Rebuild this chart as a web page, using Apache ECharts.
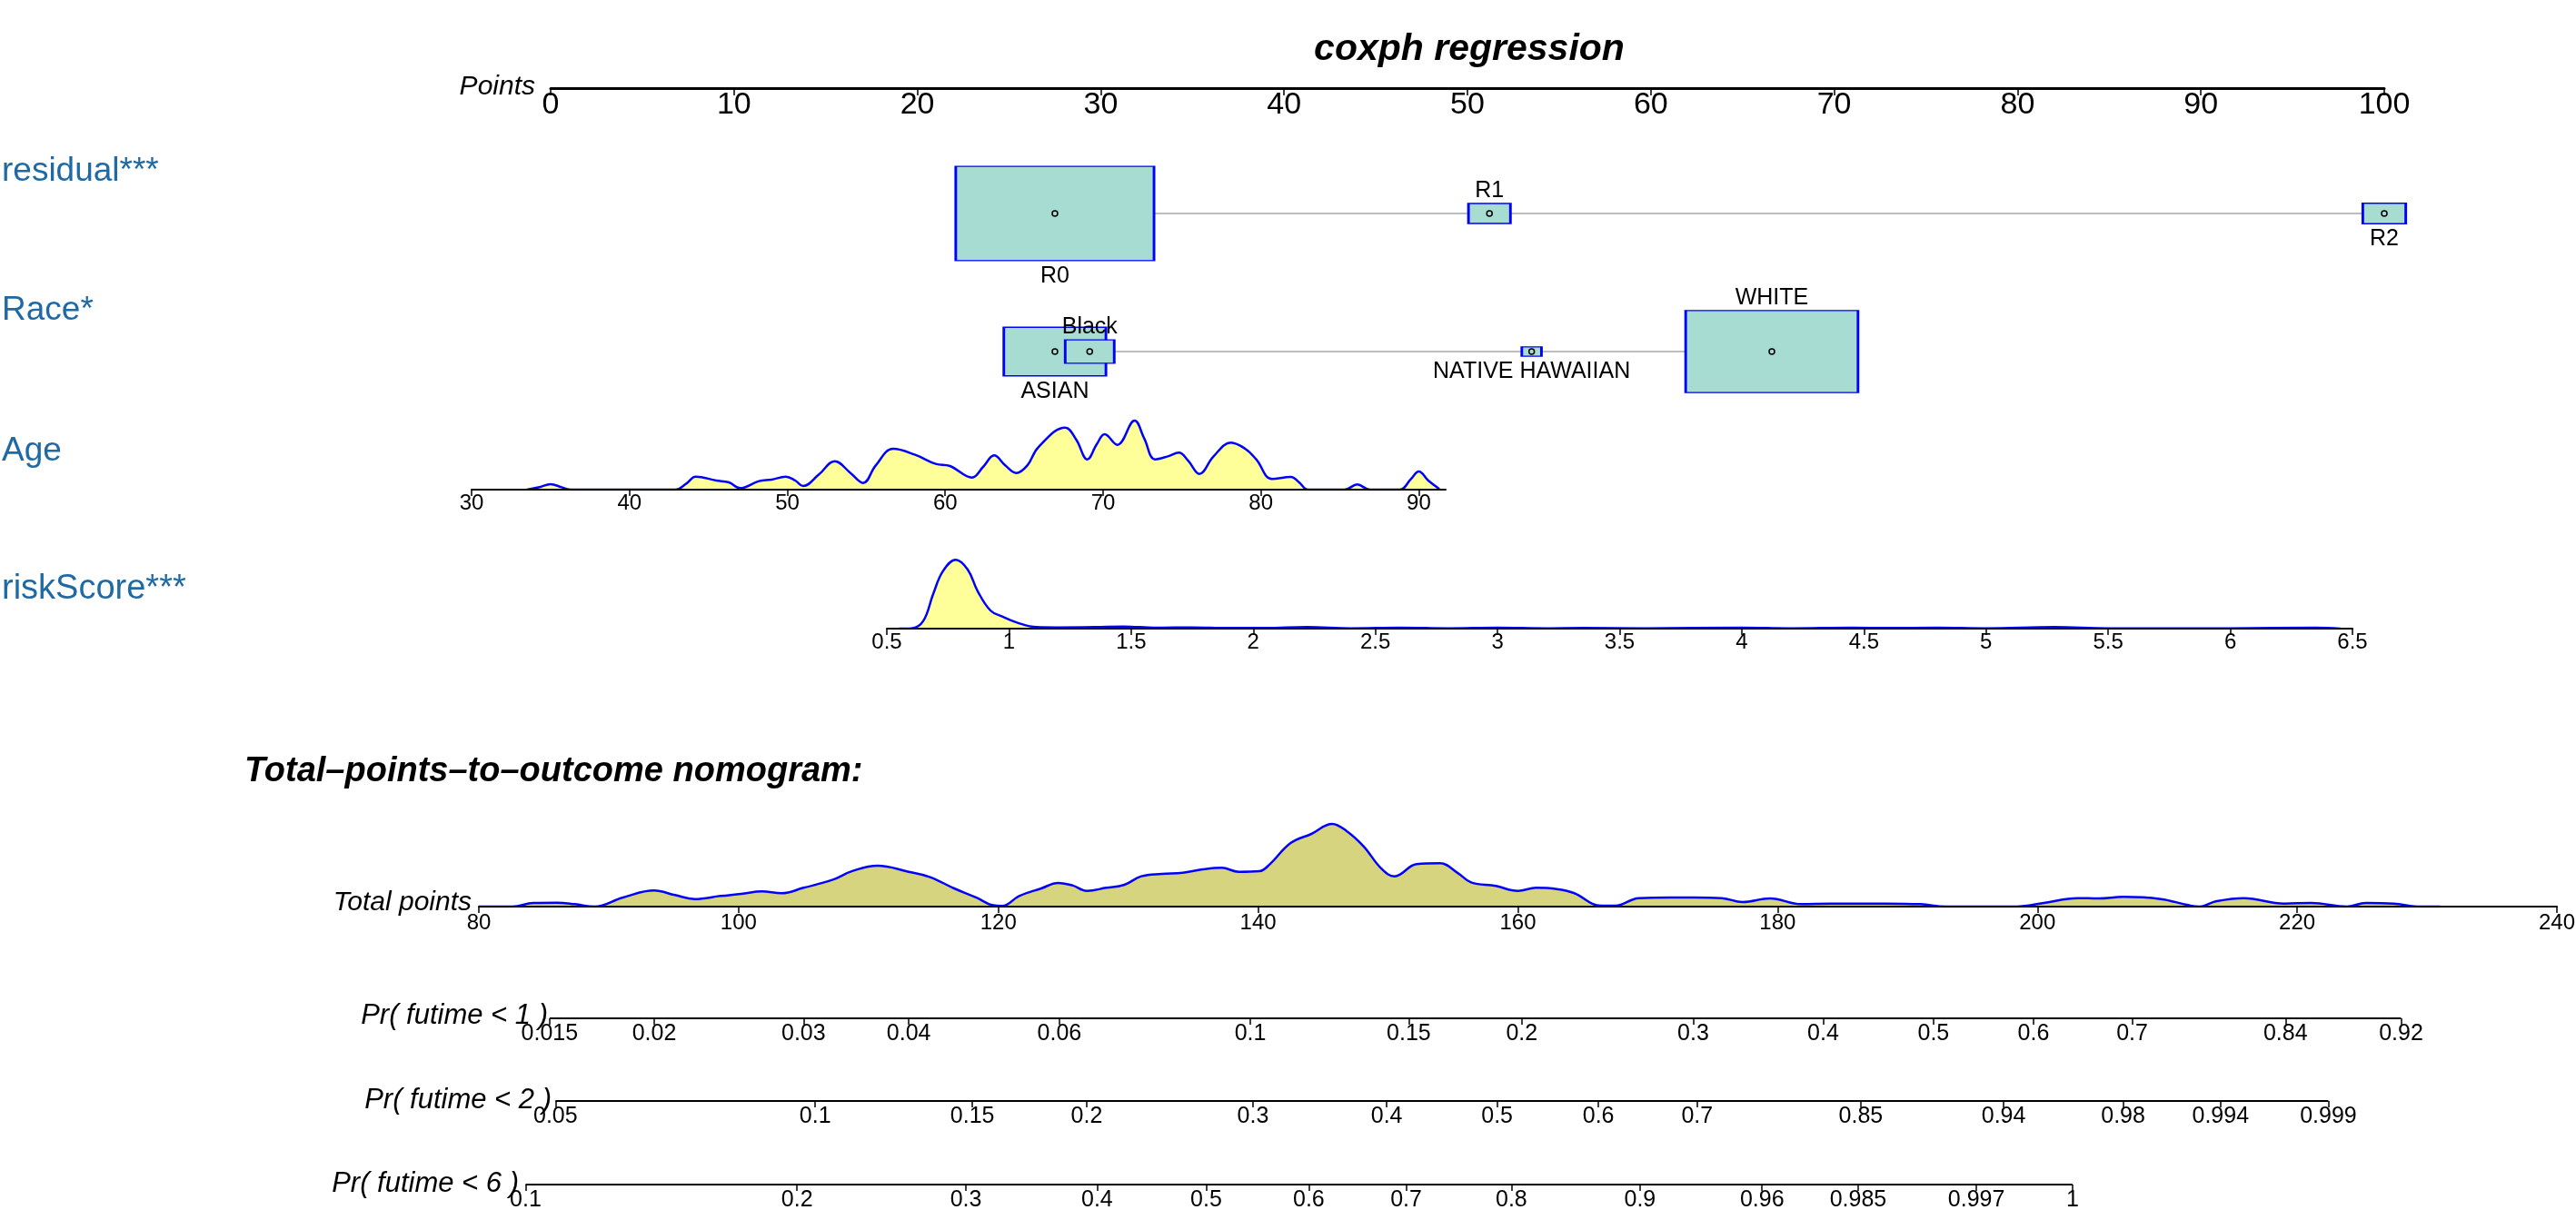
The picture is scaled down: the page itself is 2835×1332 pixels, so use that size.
<!DOCTYPE html>
<html>
<head>
<meta charset="utf-8">
<script src="https://cdn.jsdelivr.net/npm/echarts@6/dist/echarts.min.js"></script>
<style>
html,body{margin:0;padding:0;background:#fff;}
#chart{width:2835px;height:1332px;}
</style>
</head>
<body>
<div id="chart"></div>
<script>
// ---------------- data ----------------
const residualCats = ['R0', 'R1', 'R2'];
const residualPoints = [27.5, 51.2, 100];
const residualShare = [0.916, 0.041, 0.043];

const raceCats = ['ASIAN', 'Black', 'NATIVE HAWAIIAN', 'WHITE'];
const racePoints = [27.5, 29.4, 53.5, 66.6];
const raceShare = [0.243, 0.056, 0.009, 0.692];

const ageTicks = [30, 40, 50, 60, 70, 80, 90];
const ageDensity = [[33.5,0],[34.3,8],[35,18],[35.7,8],[36.3,0],[42.9,0],[43.6,20],[44.2,43],[45.5,30],[46.3,24],[47,5],[48.2,28],[49,33],[49.9,43],[50.5,30],[51,12],[52,50],[53,94],[54,55],[54.8,22],[55.6,80],[56.7,135],[58.1,115],[59.4,85],[60.3,78],[61.7,40],[62.4,75],[63.1,113],[63.8,80],[64.5,55],[65.2,80],[65.9,140],[67.6,205],[68.3,165],[69,100],[69.6,150],[70.1,183],[70.9,148],[72,228],[72.6,170],[73.3,100],[74.1,110],[74.8,122],[75.4,95],[76.1,52],[77,110],[78.1,155],[79,135],[79.7,100],[80.7,35],[81.9,42],[82.4,25],[83,0],[85.3,0],[86.1,17],[86.9,0],[88.8,0],[89.5,35],[90,60],[90.6,30],[91.3,2]];

const riskDensity = [[0.55,0],[0.601,1],[0.649,25],[0.69,115],[0.73,190],[0.782,227],[0.831,195],[0.871,125],[0.924,60],[0.972,40],[1.033,20],[1.113,5],[1.2,4],[1.35,5],[1.47,7],[1.6,3],[1.75,4],[1.9,2],[2.05,2],[2.22,5],[2.4,1],[2.6,3],[2.8,1],[3.0,3],[3.2,1],[3.35,2],[3.6,1],[4.0,3],[4.2,1],[4.45,3],[4.6,2],[4.8,3],[5.0,1],[5.28,5],[5.5,1],[6.0,1],[6.35,3],[6.45,0]];

const totalDensity = [[80,0],[82.6,0],[84.2,12],[86,13],[87.4,8],[88.9,0],[91.1,30],[93.5,53],[95.1,38],[96.6,25],[98.6,35],[100.2,42],[101.8,50],[103.3,44],[105,62],[107.2,88],[108.8,118],[110.7,135],[113.1,115],[114.7,98],[116.6,60],[118.4,28],[119.5,5],[120.3,2],[121.6,35],[123.3,60],[124.6,78],[125.7,70],[126.8,52],[128.3,62],[129.7,72],[131,100],[132.6,108],[134.2,112],[135.6,122],[137.2,128],[138.5,115],[140.1,117],[140.9,140],[142.5,210],[144.1,240],[145.7,273],[146.8,250],[148.1,200],[149.5,125],[150.5,100],[152.2,140],[154,143],[155.4,110],[156.4,80],[158.3,68],[160,52],[161.4,62],[163,58],[164.3,45],[166.4,3],[167.5,3],[169.3,28],[171.7,30],[173.6,30],[175.7,28],[177.3,15],[179.4,27],[181.8,8],[184.1,10],[188.3,10],[191,8],[192.9,0],[198.4,0],[200.5,12],[203.1,28],[204.7,27],[206.6,32],[209.5,25],[211.6,5],[212.4,0],[213.8,18],[215.9,28],[219,10],[221.1,12],[223.8,0],[225.3,12],[227.4,10],[229.5,0],[231,0]];

const pr1Labels = ['0.015','0.02','0.03','0.04','0.06','0.1','0.15','0.2','0.3','0.4','0.5','0.6','0.7','0.84','0.92'];
const pr1Pos = [85.45,93.5,105.0,113.1,124.7,139.4,151.6,160.3,173.5,183.5,192.0,199.7,207.3,219.1,228.0];
const pr2Labels = ['0.05','0.1','0.15','0.2','0.3','0.4','0.5','0.6','0.7','0.85','0.94','0.98','0.994','0.999'];
const pr2Pos = [85.9,105.9,118.0,126.8,139.6,149.9,158.4,166.2,173.8,186.4,197.4,206.6,214.1,222.4];
const pr6Labels = ['0.1','0.2','0.3','0.4','0.5','0.6','0.7','0.8','0.9','0.96','0.985','0.997','1'];
const pr6Pos = [83.6,104.5,117.5,127.6,136.0,143.9,151.4,159.5,169.4,178.8,186.2,195.3,202.7];

// ---------------- styling ----------------
const FONT = '"Liberation Sans", Arial, Helvetica, sans-serif';
const BOX_W = 228, BOX_H = 108.5;
const BOX_FILL = '#a6dcd1';
const BLUE = '#0000ff';
const LABEL_BLUE = '#1f6aa5';

const chart = echarts.init(document.getElementById('chart'), null, {renderer: 'canvas'});

function grid(left, width, top, height) {
  return {left: left, width: width, top: top, height: height, containLabel: false, outerBoundsMode: 'none'};
}
const grids = [
  grid(606, 2018, 47, 50),     // 0 points
  grid(606, 2018, 135, 200),   // 1 residual
  grid(606, 2018, 287, 200),   // 2 race
  grid(519, 1072, 459, 80),    // 3 age
  grid(976, 1613, 612, 80),    // 4 riskScore
  grid(527, 2287, 902, 96),    // 5 total points
  grid(527, 2287, 1021, 100),  // 6 pr1
  grid(527, 2287, 1112, 100),  // 7 pr2
  grid(527, 2287, 1204, 100)   // 8 pr6
];

function axisBase(gi, extra) {
  return Object.assign({
    type: 'value', gridIndex: gi, position: 'bottom', z: 10,
    axisLine: {show: true, onZero: false, lineStyle: {color: '#000', width: 2}},
    axisTick: {show: true, length: 7, lineStyle: {color: '#000', width: 1.5}},
    axisLabel: {color: '#000', fontFamily: FONT, fontSize: 24, margin: 4},
    splitLine: {show: false}
  }, extra);
}

function lookup(pos, labels) {
  const m = new Map();
  pos.forEach((p, i) => m.set(p, labels[i]));
  return v => (m.has(v) ? m.get(v) : '');
}

const xAxes = [
  axisBase(0, {min: 0, max: 100, interval: 10,
    axisLine: {show: true, onZero: false, lineStyle: {color: '#000', width: 3}},
    axisTick: {show: true, length: 8, lineStyle: {color: '#000', width: 1.5}},
    axisLabel: {color: '#000', fontFamily: FONT, fontSize: 34, margin: 2}}),
  {type: 'value', gridIndex: 1, min: 0, max: 100, show: false},
  {type: 'value', gridIndex: 2, min: 0, max: 100, show: false},
  axisBase(3, {min: 30, max: 91.7,
    axisTick: {show: true, length: 7, customValues: ageTicks, lineStyle: {color: '#000', width: 1.5}},
    axisLabel: {color: '#000', fontFamily: FONT, fontSize: 24, margin: 3, customValues: ageTicks}}),
  axisBase(4, {min: 0.5, max: 6.5, interval: 0.5,
    axisLabel: {color: '#000', fontFamily: FONT, fontSize: 24, margin: 3}}),
  axisBase(5, {min: 80, max: 240, interval: 20,
    axisLabel: {color: '#000', fontFamily: FONT, fontSize: 24, margin: 6}}),
];
[[pr1Pos, pr1Labels], [pr2Pos, pr2Labels], [pr6Pos, pr6Labels]].forEach((pr, k) => {
  xAxes.push(axisBase(6 + k, {min: 80, max: 240,
    axisLine: {show: false},
    axisTick: {show: true, length: 7, customValues: pr[0], lineStyle: {color: '#000', width: 1.5}},
    axisLabel: {color: '#000', fontFamily: FONT, fontSize: 25, margin: 5, customValues: pr[0],
      formatter: lookup(pr[0], pr[1])}}));
});

const yAxes = [
  {type: 'value', gridIndex: 0, min: 0, max: 1, show: false},
  {type: 'value', gridIndex: 1, min: -1, max: 1, show: false},
  {type: 'value', gridIndex: 2, min: -1, max: 1, show: false},
  {type: 'value', gridIndex: 3, min: 0, max: 240, show: false},
  {type: 'value', gridIndex: 4, min: 0, max: 240, show: false},
  {type: 'value', gridIndex: 5, min: 0, max: 288, show: false},
  {type: 'value', gridIndex: 6, min: 0, max: 1, show: false},
  {type: 'value', gridIndex: 7, min: 0, max: 1, show: false},
  {type: 'value', gridIndex: 8, min: 0, max: 1, show: false}
];

function categoricalSeries(axisIdx, cats, pts, share) {
  const order = pts.map((p, i) => i).sort((a, b) => pts[a] - pts[b]);
  const rank = {};
  order.forEach((idx, r) => { rank[idx] = r; });
  return [
    {type: 'line', xAxisIndex: axisIdx, yAxisIndex: axisIdx, symbol: 'none', silent: true, z: 1,
      lineStyle: {color: '#bdbdbd', width: 2},
      data: [[Math.min.apply(null, pts), 0], [Math.max.apply(null, pts), 0]]},
    {type: 'scatter', xAxisIndex: axisIdx, yAxisIndex: axisIdx, symbol: 'rect', z: 2, silent: true,
      itemStyle: {color: BOX_FILL, borderColor: BLUE, borderWidth: 2, opacity: 1},
      data: cats.map((c, i) => ({
        name: c, value: [pts[i], 0],
        symbolSize: [Math.sqrt(share[i]) * BOX_W, Math.sqrt(share[i]) * BOX_H],
        label: {show: true, formatter: '{b}', position: rank[i] % 2 === 0 ? 'bottom' : 'top',
          distance: rank[i] % 2 === 0 ? 4 : 1,
          color: '#000', fontFamily: FONT, fontSize: 25}
      }))},
    {type: 'scatter', xAxisIndex: axisIdx, yAxisIndex: axisIdx, symbol: 'circle', symbolSize: 6, z: 3, silent: true,
      itemStyle: {color: BOX_FILL, borderColor: '#000', borderWidth: 1.5, opacity: 1},
      data: pts.map(p => [p, 0])}
  ];
}

function densitySeries(axisIdx, data, fill) {
  return {type: 'line', xAxisIndex: axisIdx, yAxisIndex: axisIdx, symbol: 'none', smooth: 0.4, silent: true, z: 2,
    lineStyle: {color: BLUE, width: 2.5}, areaStyle: {color: fill, opacity: 1},
    data: data};
}

function prLine(axisIdx, pos) {
  return {type: 'line', xAxisIndex: axisIdx, yAxisIndex: axisIdx, symbol: 'none', silent: true, z: 2,
    lineStyle: {color: '#000', width: 2}, data: [[pos[0], 0], [pos[pos.length - 1], 0]]};
}

const series = []
  .concat(categoricalSeries(1, residualCats, residualPoints, residualShare))
  .concat(categoricalSeries(2, raceCats, racePoints, raceShare))
  .concat([densitySeries(3, ageDensity, '#ffff99'),
           densitySeries(4, riskDensity, '#ffff99'),
           densitySeries(5, totalDensity, '#d6d47f'),
           prLine(6, pr1Pos), prLine(7, pr2Pos), prLine(8, pr6Pos)]);

function txt(x, y, text, font, align, fill) {
  return {type: 'text', x: x, y: y, silent: true,
    style: {text: text, font: font, fill: fill || '#000', align: align || 'left', verticalAlign: 'middle',
      textAlign: align || 'left', textVerticalAlign: 'middle'}};
}

const graphics = [
  txt(1617, 55, 'coxph regression', 'italic bold 41px ' + FONT, 'center'),
  txt(589, 96, 'Points', 'italic 30px ' + FONT, 'right'),
  txt(2, 189, 'residual***', '37px ' + FONT, 'left', LABEL_BLUE),
  txt(2, 342, 'Race*', '37px ' + FONT, 'left', LABEL_BLUE),
  txt(2, 497, 'Age', '37px ' + FONT, 'left', LABEL_BLUE),
  txt(2, 649, 'riskScore***', '38px ' + FONT, 'left', LABEL_BLUE),
  txt(269, 850, 'Total–points–to–outcome nomogram:', 'italic bold 38px ' + FONT, 'left'),
  txt(519, 994, 'Total points', 'italic 30px ' + FONT, 'right'),
  txt(603, 1118, 'Pr( futime < 1 )', 'italic 31px ' + FONT, 'right'),
  txt(607, 1211, 'Pr( futime < 2 )', 'italic 31px ' + FONT, 'right'),
  txt(571, 1303, 'Pr( futime < 6 )', 'italic 31px ' + FONT, 'right')
];

chart.setOption({
  animation: false,
  backgroundColor: '#fff',
  grid: grids,
  xAxis: xAxes,
  yAxis: yAxes,
  series: series,
  graphic: {elements: graphics}
});
</script>
</body>
</html>
